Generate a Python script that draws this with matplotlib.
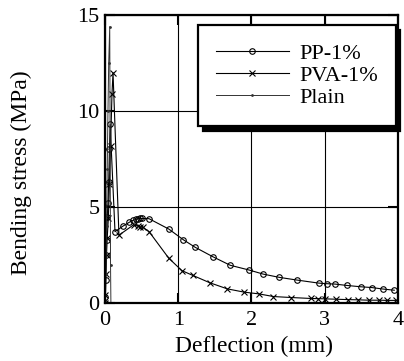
import matplotlib.pyplot as plt
import numpy as np

pp_x = [0, 0.005, 0.01, 0.015, 0.02, 0.03, 0.04, 0.05, 0.06, 0.07, 0.136, 0.24, 0.33, 0.38, 0.42, 0.45,
        0.48, 0.51, 0.6, 0.87, 1.07, 1.23, 1.47, 1.71, 1.97, 2.16, 2.38, 2.62, 2.92, 3.03, 3.14, 3.3,
        3.49, 3.64, 3.8, 3.95]
pp_y = [0, 0.3, 1.2, 2.5, 3.3, 4.5, 5.2, 6.3, 8.0, 9.3, 3.71, 3.99, 4.2, 4.3, 4.35, 4.39,
        4.4, 4.4, 4.39, 3.85, 3.29, 2.9, 2.41, 1.96, 1.71, 1.5, 1.33, 1.19, 1.03, 1.0, 0.98, 0.91,
        0.84, 0.8, 0.72, 0.66]

pva_x = [0, 0.005, 0.01, 0.02, 0.03, 0.045, 0.06, 0.075, 0.095, 0.109, 0.19, 0.39, 0.45, 0.48, 0.52,
         0.6, 0.87, 1.05, 1.2, 1.43, 1.67, 1.9, 2.1, 2.3, 2.54, 2.81, 2.91, 3.0, 3.16, 3.32, 3.45,
         3.6, 3.74, 3.85, 3.97]
pva_y = [0, 0.4, 1.5, 2.5, 3.4, 4.4, 6.2, 8.2, 10.9, 12.0, 3.53, 4.07, 4.0, 3.97, 3.93,
         3.72, 2.33, 1.68, 1.43, 1.05, 0.73, 0.56, 0.47, 0.33, 0.28, 0.23, 0.22, 0.21, 0.19, 0.17, 0.16,
         0.14, 0.14, 0.13, 0.13]

plain_x = [0, 0.01, 0.02, 0.03, 0.04, 0.05, 0.064, 0.07, 0.075, 0.08]
plain_y = [0, 1.5, 4.0, 7.0, 10.0, 12.5, 14.4, 8.0, 2.0, 0.0]

plt.rcParams['font.family'] = 'Liberation Serif'
plt.rcParams['font.size'] = 16

fig = plt.figure(figsize=(4.04, 3.61), dpi=100)
ax = fig.add_axes([0.26, 0.161, 0.725, 0.797])

ax.plot(pp_x, pp_y, color='black', lw=0.8, marker='o', ms=4, mfc='none', mew=0.8, label='PP-1%')
ax.plot(pva_x, pva_y, color='black', lw=0.8, marker='x', ms=4, mew=0.8, label='PVA-1%')
ax.plot(plain_x, plain_y, color='#333333', lw=0.7, marker='.', ms=2, label='Plain')

ax.set_xlim(0, 4)
ax.set_ylim(0, 15)
ax.set_xticks([0, 1, 2, 3, 4])
ax.set_yticks([0, 5, 10, 15])
ax.grid(True, color='black', lw=0.8)
ax.tick_params(direction='in', length=7, width=1.5, top=True, right=True, pad=4, labelsize=16)
ax.tick_params(axis='x', pad=6)
for s in ax.spines.values():
    s.set_linewidth(1.6)

ax.set_xlabel('Deflection (mm)', fontsize=17)
ax.set_ylabel('Bending stress (MPa)', fontsize=17)
ax.xaxis.set_label_coords(0.51, -0.115)
ax.yaxis.set_label_coords(-0.25, 0.451)

leg = ax.legend(loc='upper left', bbox_to_anchor=(0.317, 0.965), fancybox=False, edgecolor='black',
                framealpha=1, numpoints=1, handlelength=3.3, handletextpad=0.45,
                labelspacing=0.08, borderpad=0.8, borderaxespad=0, fontsize=16,
                shadow={'color': 'black', 'alpha': 1, 'ox': 3.5, 'oy': -3.5})
leg.get_frame().set_linewidth(1.6)

fig.savefig('out.png', dpi=100)
